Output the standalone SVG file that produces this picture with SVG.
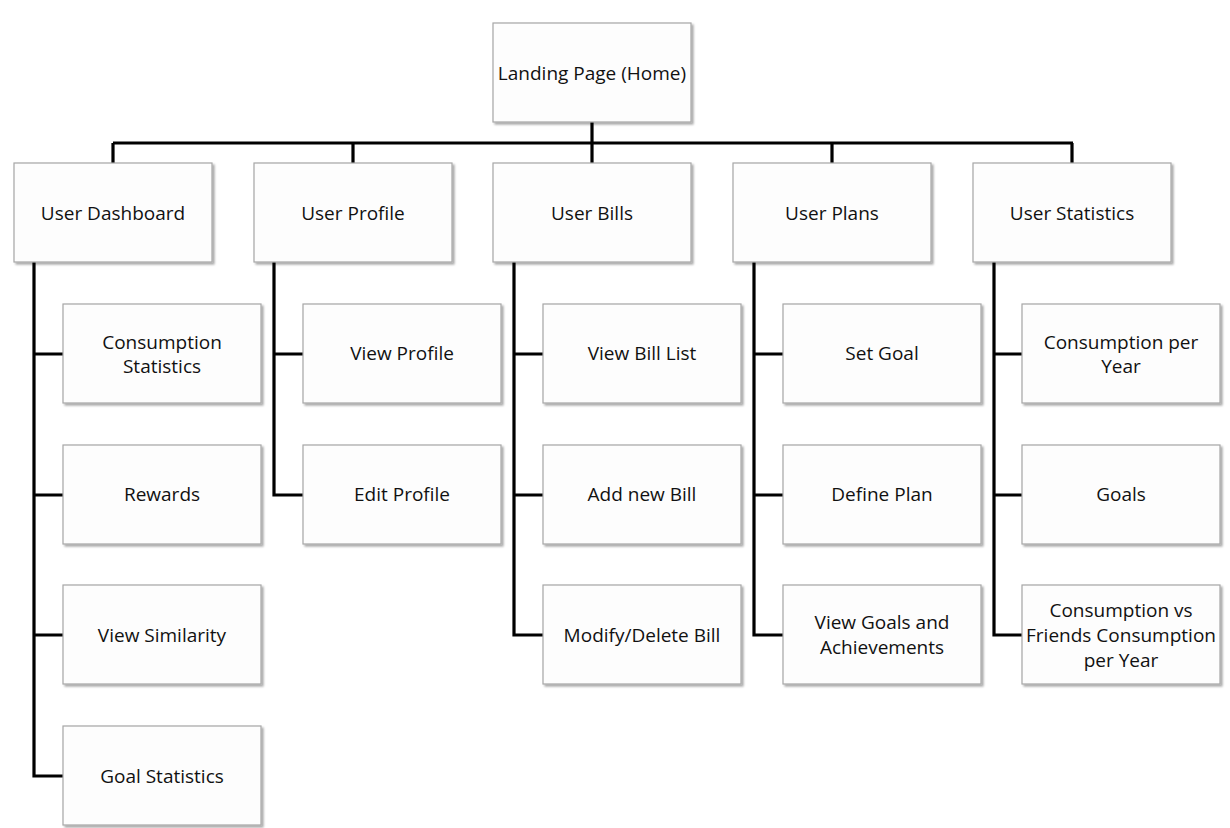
<svg xmlns="http://www.w3.org/2000/svg" width="1230" height="828" viewBox="0 0 1230 828">
  <defs>
    <filter id="shadow" x="-5%" y="-5%" width="115%" height="115%">
      <feGaussianBlur in="SourceAlpha" stdDeviation="1.2"/>
      <feOffset dx="2" dy="2" result="b"/>
      <feComponentTransfer><feFuncA type="linear" slope="0.35"/></feComponentTransfer>
      <feMerge><feMergeNode/><feMergeNode in="SourceGraphic"/></feMerge>
    </filter>
  </defs>
  <style>
    .box { fill: #fdfdfd; stroke: #a6a6a6; stroke-width: 1.2; filter: url(#shadow); }
    .lbl { font-family: "Open Sans", "Liberation Sans", sans-serif; font-size: 19px; fill: #111; text-anchor: middle; dominant-baseline: central; }
    .wire { fill: none; stroke: #000; stroke-width: 3.2; stroke-linejoin: miter; }
  </style>
  <rect width="1230" height="828" fill="#fff"/>

  <!-- connectors -->
  <g id="connectors" class="wire">
    <path d="M592 122V163"/>
    <path d="M113 143H1073"/>
    <path d="M113 143V163M353 143V163M832 143V163M1072 143V163"/>
    <!-- User Dashboard branch -->
    <path d="M34 262V776H63M34 354H63M34 495H63M34 635H63"/>
    <!-- User Profile branch -->
    <path d="M274 262V495H303M274 354H303"/>
    <!-- User Bills branch -->
    <path d="M514 262V635H543M514 354H543M514 495H543"/>
    <!-- User Plans branch -->
    <path d="M754 262V635H783M754 354H783M754 495H783"/>
    <!-- User Statistics branch -->
    <path d="M994 262V635H1022M994 354H1022M994 495H1022"/>
  </g>

  <g id="home"><rect class="box" x="493" y="23" width="198" height="99"/><text class="lbl" x="592" y="73">Landing Page (Home)</text></g>

  <g id="dashboard"><rect class="box" x="14" y="163" width="198" height="99"/><text class="lbl" x="113" y="213">User Dashboard</text></g>
  <g id="profile"><rect class="box" x="254" y="163" width="198" height="99"/><text class="lbl" x="353" y="213">User Profile</text></g>
  <g id="bills"><rect class="box" x="493" y="163" width="198" height="99"/><text class="lbl" x="592" y="213">User Bills</text></g>
  <g id="plans"><rect class="box" x="733" y="163" width="198" height="99"/><text class="lbl" x="832" y="213">User Plans</text></g>
  <g id="statistics"><rect class="box" x="973" y="163" width="198" height="99"/><text class="lbl" x="1072" y="213">User Statistics</text></g>

  <g id="consumption-statistics"><rect class="box" x="63" y="304" width="198" height="99"/><text class="lbl" x="162" y="342">Consumption</text><text class="lbl" x="162" y="366">Statistics</text></g>
  <g id="rewards"><rect class="box" x="63" y="445" width="198" height="99"/><text class="lbl" x="162" y="494">Rewards</text></g>
  <g id="view-similarity"><rect class="box" x="63" y="585" width="198" height="99"/><text class="lbl" x="162" y="635">View Similarity</text></g>
  <g id="goal-statistics"><rect class="box" x="63" y="726" width="198" height="99"/><text class="lbl" x="162" y="776">Goal Statistics</text></g>

  <g id="view-profile"><rect class="box" x="303" y="304" width="198" height="99"/><text class="lbl" x="402" y="353">View Profile</text></g>
  <g id="edit-profile"><rect class="box" x="303" y="445" width="198" height="99"/><text class="lbl" x="402" y="494">Edit Profile</text></g>

  <g id="view-bill-list"><rect class="box" x="543" y="304" width="198" height="99"/><text class="lbl" x="642" y="353">View Bill List</text></g>
  <g id="add-bill"><rect class="box" x="543" y="445" width="198" height="99"/><text class="lbl" x="642" y="494">Add new Bill</text></g>
  <g id="modify-bill"><rect class="box" x="543" y="585" width="198" height="99"/><text class="lbl" x="642" y="635">Modify/Delete Bill</text></g>

  <g id="set-goal"><rect class="box" x="783" y="304" width="198" height="99"/><text class="lbl" x="882" y="353">Set Goal</text></g>
  <g id="define-plan"><rect class="box" x="783" y="445" width="198" height="99"/><text class="lbl" x="882" y="494">Define Plan</text></g>
  <g id="view-goals"><rect class="box" x="783" y="585" width="198" height="99"/><text class="lbl" x="882" y="622">View Goals and</text><text class="lbl" x="882" y="647">Achievements</text></g>

  <g id="consumption-year"><rect class="box" x="1022" y="304" width="198" height="99"/><text class="lbl" x="1121" y="342">Consumption per</text><text class="lbl" x="1121" y="366">Year</text></g>
  <g id="goals"><rect class="box" x="1022" y="445" width="198" height="99"/><text class="lbl" x="1121" y="494">Goals</text></g>
  <g id="friends-consumption"><rect class="box" x="1022" y="585" width="198" height="99"/><text class="lbl" x="1121" y="610">Consumption vs</text><text class="lbl" x="1121" y="635">Friends Consumption</text><text class="lbl" x="1121" y="660">per Year</text></g>
</svg>
